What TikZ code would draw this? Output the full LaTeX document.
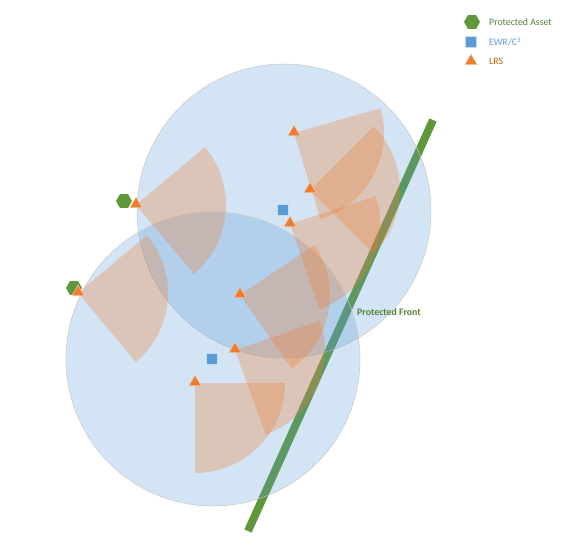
\documentclass[tikz,border=0pt]{standalone}
\usepackage{fontspec}
\setmainfont{Carlito}
\usetikzlibrary{shapes.geometric}
\definecolor{cblue}{RGB}{91,155,213}
\definecolor{corange}{RGB}{237,125,49}
\definecolor{cgreen}{RGB}{94,152,58}
\definecolor{tgreen}{RGB}{84,130,53}
\definecolor{torange}{RGB}{197,90,17}
\newcommand\lrssector[4]{\fill[arcfill] (#1,#2) -- ++({-(#3)}:90) arc[start angle={-(#3)}, end angle={-(#4)}, radius=90] -- cycle;}
\begin{document}
\begin{tikzpicture}[x=1pt,y=-1pt,
 zone/.style={circle, minimum size=294pt, inner sep=0pt, fill=cblue, fill opacity=0.27, draw=black!22, line width=0.5pt},
 lrs/.style={regular polygon, regular polygon sides=3, minimum size=14pt, inner sep=0pt, fill=corange, draw=white!70!corange, line width=0.4pt},
 asset/.style={regular polygon, regular polygon sides=6, minimum size=16pt, inner sep=0pt, fill=cgreen},
 ewr/.style={rectangle, minimum size=11pt, inner sep=0pt, fill=cblue, draw=white!65!cblue, line width=0.4pt},
 arcfill/.style={fill=corange, fill opacity=0.3},
 front/.style={line width=8pt, draw=cgreen},
 lbl/.style={font=\fontsize{9.8}{11}\selectfont, anchor=west, inner sep=0pt}]
\useasboundingbox (0,0) rectangle (586,547);
% protected front
\coordinate (f1) at (433,120);
\coordinate (f2) at (248,531);
\draw[front] (f1) -- (f2);
% coverage zones
\node[zone] (z1) at (284,211) {};
\node[zone] (z2) at (213,359) {};
% LRS sectors
\lrssector{136}{205}{-50}{40}
\lrssector{78}{293}{-50}{40}
\lrssector{294}{133}{-73}{16}
\lrssector{310}{190}{-45}{45}
\lrssector{290}{224}{-71}{18}
\lrssector{240}{295}{-55}{34}
\lrssector{235}{350}{-70}{19}
\lrssector{195}{383}{-90}{0}
% front label
\node[font=\fontsize{9.8}{11}\selectfont\bfseries, text=tgreen] (fl) at (389,312) {Protected Front};
% assets
\node[asset] (a1) at (124,201) {};
\node[asset] (a2) at (74,288) {};
% EWR
\node[ewr] (e1) at (283,210) {};
\node[ewr] (e2) at (212,359) {};
% LRS
\node[lrs] (l1) at (136,204) {};
\node[lrs] (l2) at (78,292) {};
\node[lrs] (l3) at (294,132) {};
\node[lrs] (l4) at (310,189) {};
\node[lrs] (l5) at (290,223) {};
\node[lrs] (l6) at (240,294) {};
\node[lrs] (l7) at (235,349) {};
\node[lrs] (l8) at (195,382) {};
% legend
\node[asset] (la) at (472,22) {};
\node[lbl, text=tgreen] (lat) at (489,22) {Protected Asset};
\node[ewr] (le) at (471,42) {};
\node[lbl, text=cblue] (let) at (489,42) {EWR/C\textsuperscript{3}};
\node[lrs] (ll) at (471,61) {};
\node[lbl, text=torange] (llt) at (489,61) {LRS};
\end{tikzpicture}
\end{document}
